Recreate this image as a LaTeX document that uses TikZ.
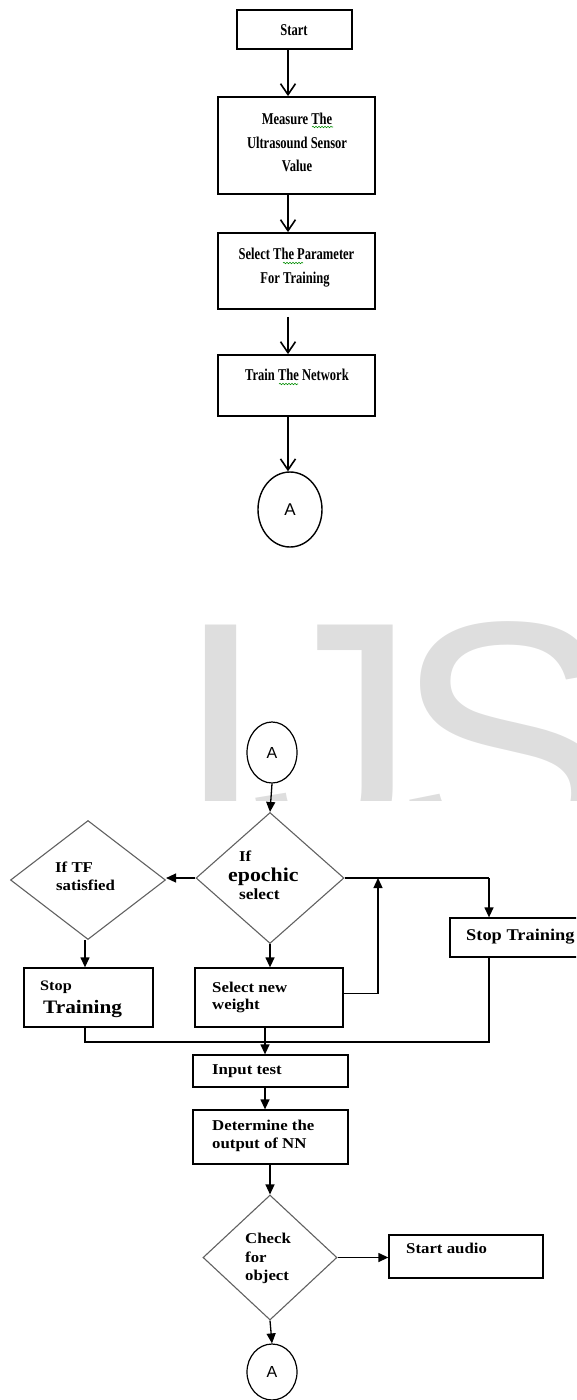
\documentclass[tikz,border=0pt]{standalone}
\usepackage{fontspec}
\setmainfont{Liberation Serif}
\newfontfamily\topf[FakeStretch=0.76]{Liberation Serif}
\newfontfamily\botf[FakeStretch=1.12]{Liberation Serif}
\newfontfamily\sansA{Liberation Sans}
\usetikzlibrary{arrows.meta,shapes.geometric,decorations.pathmorphing}
\definecolor{wm}{gray}{0.87}
\definecolor{diaedge}{gray}{0.38}
\begin{document}
\begin{tikzpicture}[x=1pt,y=-1pt,
  topbox/.style={draw=black, line width=1.8pt, rectangle, inner sep=0pt},
  botbox/.style={draw=black, line width=1.3pt, rectangle, inner sep=0pt},
  dia/.style={draw=diaedge, line width=1.1pt, diamond, inner sep=0pt},
  conn/.style={draw=black, line width=1.4pt, ellipse, inner sep=0pt},
  tarrow/.style={line width=1.6pt, -{Straight Barb[length=11pt,width=15pt,line width=1.6pt]}},
  bline/.style={line width=1.3pt},
  barrow/.style={line width=1.3pt, -{Triangle[length=10pt,width=9pt]}},
  ttxt/.style={inner sep=0pt, anchor=base, font=\topf\bfseries\fontsize{16.5}{16.5}\selectfont},
  btxt/.style={inner sep=0pt, anchor=base west, font=\botf\bfseries\fontsize{15}{15}\selectfont},
  wmtxt/.style={inner sep=0pt, anchor=base west, text=wm, font=\sansA\fontsize{335}{335}\selectfont},
  squig/.style={draw=green!55!black, line width=0.6pt, decorate, decoration={snake, amplitude=0.7pt, segment length=3pt}}
]
\useasboundingbox (0,0) rectangle (576,1400);
\clip (0,0) rectangle (576,1400);

% watermark
\begin{scope}
\clip (0,560) rectangle (576,800);
\node[wmtxt] (wmI) at (174,855) {I};
\node[wmtxt] (wmJ) at (250,855) {J};
\node[wmtxt] (wmS) at (394,855) {S};
\end{scope}

% ---------- top flow ----------
\coordinate (tx) at (288,0);
\node[topbox, minimum width=115pt, minimum height=39pt] (start) at (294.5,29.5) {};
\node[topbox, minimum width=157pt, minimum height=97pt] (measure) at (296.5,145.5) {};
\node[topbox, minimum width=157pt, minimum height=76pt] (param) at (296.5,271) {};
\node[topbox, minimum width=157pt, minimum height=61pt] (train) at (296.5,385.5) {};
\node[conn, minimum width=64pt, minimum height=75pt] (A1) at (290,509.5) {};

\node[ttxt] (tStart) at (294,35) {Start};
\node[ttxt] (tM1) at (297,124) {Measure The};
\node[ttxt] (tM2) at (297,148) {Ultrasound Sensor};
\node[ttxt] (tM3) at (297,171) {Value};
\node[ttxt] (tP1) at (296.5,259) {Select The Parameter};
\node[ttxt] (tP2) at (295,283) {For Training};
\node[ttxt] (tT1) at (297,380) {Train The Network};
\node[inner sep=0pt, font=\sansA\fontsize{17}{17}\selectfont] (tA1) at (290,509.5) {A};

\draw[squig] (312,127) -- (333,127);
\draw[squig] (283,263) -- (303,263);
\draw[squig] (279,384) -- (298,384);

\draw[tarrow] (start.south -| tx) -- (measure.north -| tx);
\draw[tarrow] (measure.south -| tx) -- (param.north -| tx);
\draw[tarrow] ([yshift=-7pt]param.south -| tx) -- (train.north -| tx);
\draw[tarrow] (train.south -| tx) -- (A1.north -| tx);

% ---------- bottom flow ----------
\node[conn, line width=1.2pt, minimum width=50pt, minimum height=61pt] (A2) at (272,752.5) {};
\node[dia, minimum width=148pt, minimum height=131pt] (epoch) at (270,878) {};
\node[dia, minimum width=155pt, minimum height=119pt] (tf) at (88,880) {};
\node[botbox, minimum width=129pt, minimum height=59pt] (stopL) at (88.5,997.5) {};
\node[botbox, minimum width=148pt, minimum height=59pt] (selw) at (269,997.5) {};
\node[botbox, minimum width=150pt, minimum height=39pt] (stopR) at (525,937.5) {};
\node[botbox, minimum width=155pt, minimum height=32pt] (input) at (270.5,1071) {};
\node[botbox, minimum width=155pt, minimum height=54pt] (determine) at (270.5,1137) {};
\node[dia, minimum width=134pt, minimum height=125pt] (check) at (270,1257.5) {};
\node[botbox, minimum width=154pt, minimum height=43pt] (audio) at (466,1256.5) {};
\node[conn, line width=1.2pt, minimum width=50pt, minimum height=56pt] (A3) at (272,1372) {};

\node[inner sep=0pt, font=\sansA\fontsize{16}{16}\selectfont] (tA2) at (272,752.5) {A};
\node[inner sep=0pt, font=\sansA\fontsize{16}{16}\selectfont] (tA3) at (272,1372) {A};

\node[btxt] (tE1) at (239,861) {If};
\node[btxt, font=\botf\bfseries\fontsize{19.5}{19.5}\selectfont] (tE2) at (228,881) {epochic};
\node[btxt, font=\botf\bfseries\fontsize{15.5}{15.5}\selectfont] (tE3) at (239,899) {select};
\node[btxt] (tF1) at (55,872) {If TF};
\node[btxt] (tF2) at (56,890) {satisfied};
\node[btxt, font=\botf\bfseries\fontsize{14.5}{14.5}\selectfont] (tS1) at (40,990) {Stop};
\node[btxt, font=\botf\bfseries\fontsize{19}{19}\selectfont] (tS2) at (43,1013) {Training};
\node[btxt] (tW1) at (212,992) {Select new};
\node[btxt] (tW2) at (212,1009) {weight};
\node[btxt, font=\botf\bfseries\fontsize{16.4}{16.4}\selectfont] (tR1) at (466,940) {Stop Training};
\node[btxt] (tI1) at (212,1074) {Input test};
\node[btxt] (tD1) at (212,1130) {Determine the};
\node[btxt] (tD2) at (212,1148) {output of NN};
\node[btxt] (tC1) at (245,1243) {Check};
\node[btxt] (tC2) at (245,1262) {for};
\node[btxt] (tC3) at (245,1280) {object};
\node[btxt] (tAu) at (406,1253) {Start audio};

\coordinate (mL) at (85,1042);
\coordinate (mR) at (489,1042);
\coordinate (mX) at (265,1042);
\coordinate (rjoin) at (489,878);
\coordinate (loopTop) at (378,878);

\draw[barrow] (A2.south) -- (epoch.north);
\draw[barrow] (epoch.west) -- (epoch.west -| tf.east);
\draw[barrow] (tf.south -| mL) -- (stopL.north -| mL);
\draw[barrow] (epoch.south) -- (epoch.south |- selw.north);
\draw[barrow] ([yshift=4pt]selw.east) -| (loopTop);
\draw[bline] (epoch.east) -- (rjoin);
\draw[barrow] (rjoin) -- (rjoin |- stopR.north);
\draw[bline] (mL |- stopL.south) -- (mL) -- (mR) -- (mR |- stopR.south);
\draw[barrow] (selw.south -| mX) -- (input.north -| mX);
\draw[barrow] (input.south -| mX) -- (determine.north -| mX);
\draw[barrow] (check.north |- determine.south) -- (check.north);
\draw[barrow] (check.east) -- (check.east -| audio.west);
\draw[barrow] (check.south) -- (A3.north);
\end{tikzpicture}
\end{document}
